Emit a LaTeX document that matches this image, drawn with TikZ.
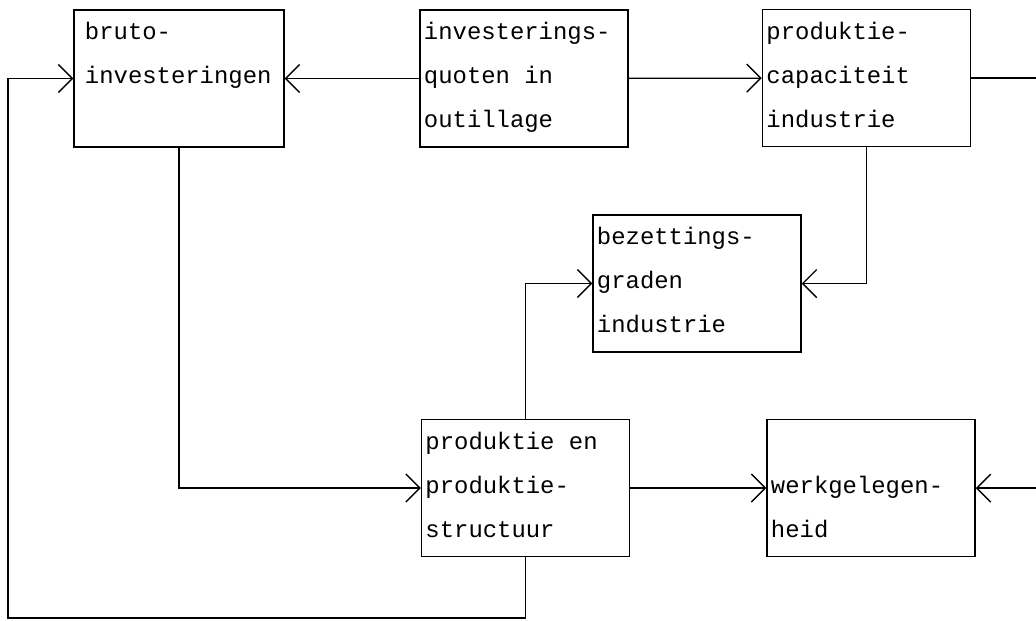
\documentclass[tikz,border=0pt]{standalone}
\usepackage{fontspec}
\setmonofont{Liberation Mono}
\usetikzlibrary{arrows.meta}
\newcommand{\regel}{\rule[-5.5pt]{0pt}{18.5pt}}
\newcommand{\drie}[3]{\spaceskip=0.6em\relax\regel#1\\\regel#2\\\regel#3}

\begin{document}
\begin{tikzpicture}[x=0.025cm,y=-0.025cm,
    >={Straight Barb[length=3.5mm,width=7mm,line width=1pt]},
    blok/.style={draw,line width=1pt,minimum width=5.2cm,minimum height=3.42cm,
                 text width=5cm,inner xsep=1mm,align=left,
                 font=\ttfamily\fontsize{17}{31.3}\selectfont},
    lijn/.style={line width=0.9pt}]
    \useasboundingbox (0,0) rectangle (1036,620);

    \node[blok,text width=4.7cm,inner xsep=2.75mm,minimum width=5.25cm] (bruto) at (179,78.5) {\drie{bruto-}{investeringen}{}};
    \node[blok] (quoten) at (524,78.5) {\drie{investerings-}{quoten in}{outillage}};
    \node[blok] (capaciteit) at (866.5,78) {\drie{produktie-}{capaciteit}{industrie}};
    \draw[lijn,->] (quoten)--(bruto);
    \draw[lijn,->] (quoten)--(capaciteit);

    \node[blok] (bezetting) at (697,283.5) {\drie{bezettings-}{graden}{industrie}};
    \draw[lijn,->] (capaciteit.south) |- (bezetting.east);

    \node[blok] (produktie) at (525.5,488) {\drie{produktie en}{produktie-}{structuur}};
    \node[blok] (werk) at (871,488) {\drie{}{werkgelegen-}{heid}};
    \draw[lijn,->] (bruto.south) |- (produktie.west);
    \draw[lijn,->] (produktie.north) |- (bezetting.west);
    \draw[lijn,->] (produktie)--(werk);

    \coordinate (rechtsboven) at (1036,78);
    \coordinate (rechtsonder) at (1036,488);
    \coordinate (hoek) at (8,618);
    \draw[lijn] (capaciteit)--(rechtsboven);
    \draw[lijn,->] (rechtsonder)--(werk);
    \draw[lijn,->] (produktie.south) |- (hoek) |- (bruto.west);
\end{tikzpicture}
\end{document}
